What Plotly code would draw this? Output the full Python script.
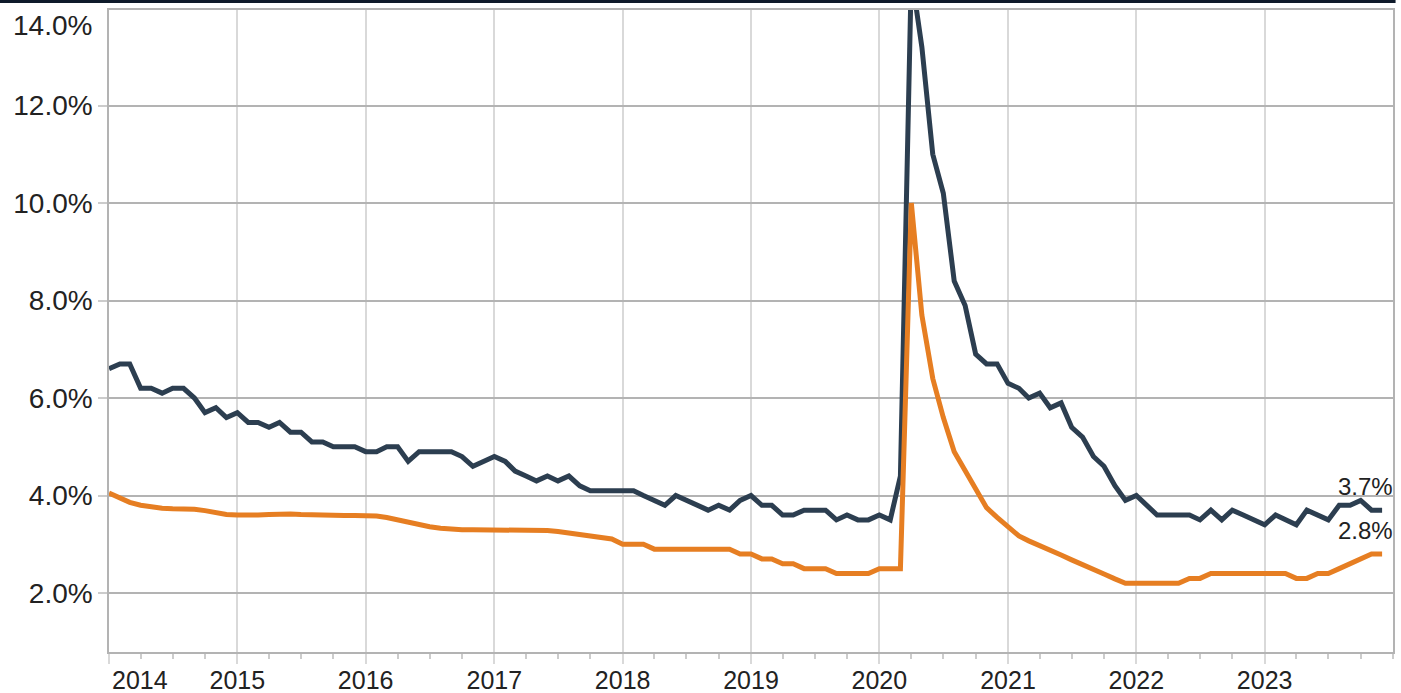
import pandas as pd
import plotly.graph_objects as go

# ---- data (monthly, Jan 2014 .. Dec 2023) ----
months = pd.date_range("2014-01-01", periods=120, freq="MS")

dark_rate = [
    6.6, 6.7, 6.7, 6.2, 6.2, 6.1, 6.2, 6.2, 6.0, 5.7, 5.8, 5.6,   # 2014
    5.7, 5.5, 5.5, 5.4, 5.5, 5.3, 5.3, 5.1, 5.1, 5.0, 5.0, 5.0,   # 2015
    4.9, 4.9, 5.0, 5.0, 4.7, 4.9, 4.9, 4.9, 4.9, 4.8, 4.6, 4.7,   # 2016
    4.8, 4.7, 4.5, 4.4, 4.3, 4.4, 4.3, 4.4, 4.2, 4.1, 4.1, 4.1,   # 2017
    4.1, 4.1, 4.0, 3.9, 3.8, 4.0, 3.9, 3.8, 3.7, 3.8, 3.7, 3.9,   # 2018
    4.0, 3.8, 3.8, 3.6, 3.6, 3.7, 3.7, 3.7, 3.5, 3.6, 3.5, 3.5,   # 2019
    3.6, 3.5, 4.4, 14.7, 13.2, 11.0, 10.2, 8.4, 7.9, 6.9, 6.7, 6.7,  # 2020
    6.3, 6.2, 6.0, 6.1, 5.8, 5.9, 5.4, 5.2, 4.8, 4.6, 4.2, 3.9,   # 2021
    4.0, 3.8, 3.6, 3.6, 3.6, 3.6, 3.5, 3.7, 3.5, 3.7, 3.6, 3.5,   # 2022
    3.4, 3.6, 3.5, 3.4, 3.7, 3.6, 3.5, 3.8, 3.8, 3.9, 3.7, 3.7,   # 2023
]

orange_rate = [
    4.05, 3.94, 3.86, 3.80, 3.76, 3.74, 3.73, 3.73, 3.72, 3.69, 3.65, 3.61,  # 2014
    3.60, 3.59, 3.60, 3.61, 3.62, 3.62, 3.61, 3.60, 3.59, 3.59, 3.59, 3.59,  # 2015
    3.59, 3.58, 3.55, 3.50, 3.45, 3.40, 3.36, 3.33, 3.31, 3.30, 3.30, 3.30,  # 2016
    3.30, 3.30, 3.30, 3.30, 3.29, 3.28, 3.26, 3.23, 3.20, 3.17, 3.14, 3.11,  # 2017
    3.0, 3.0, 3.0, 2.9, 2.9, 2.9, 2.9, 2.9, 2.9, 2.9, 2.9, 2.8,             # 2018
    2.8, 2.7, 2.7, 2.6, 2.6, 2.5, 2.5, 2.5, 2.4, 2.4, 2.4, 2.4,             # 2019
    2.5, 2.5, 2.5, 10.0, 7.7, 6.4, 5.6, 4.9, 4.5, 4.1, 3.75, 3.55,          # 2020
    3.36, 3.17, 3.07, 2.98, 2.88, 2.78, 2.68, 2.59, 2.49, 2.39, 2.29, 2.2,  # 2021
    2.2, 2.2, 2.2, 2.2, 2.2, 2.3, 2.3, 2.4, 2.4, 2.4, 2.4, 2.4,             # 2022
    2.4, 2.4, 2.4, 2.3, 2.3, 2.4, 2.4, 2.5, 2.6, 2.7, 2.8, 2.8,             # 2023
]

year_ticks = [f"{y}-01-01" for y in range(2014, 2024)]
year_labels = ["", "2015", "2016", "2017", "2018", "2019", "2020", "2021", "2022", "2023"]
first_year_label = "2014"
y_ticks = [2, 4, 6, 8, 10, 12]
y_labels = ["2.0%", "4.0%", "6.0%", "8.0%", "10.0%", "12.0%"]
top_y_label = "14.0%"
Y_MIN, Y_MAX = 0.79, 13.96

DARK = "#2c3e50"
ORANGE = "#e67e22"
FONT = "Liberation Sans, Arial, sans-serif"
TXT = "#222222"

fig = go.Figure()
fig.add_trace(go.Scatter(x=months, y=dark_rate, mode="lines",
                         line=dict(color=DARK, width=5), showlegend=False))
fig.add_trace(go.Scatter(x=months, y=orange_rate, mode="lines",
                         line=dict(color=ORANGE, width=5), showlegend=False))

fig.update_layout(
    width=1401, height=693,
    margin=dict(l=109, r=8, t=10, b=41, autoexpand=False),
    paper_bgcolor="white", plot_bgcolor="white",
    font=dict(family=FONT, color=TXT),
    showlegend=False,
)

fig.update_xaxes(
    type="date", range=["2014-01-01", "2024-01-01"], automargin=False,
    tickmode="array", tickvals=year_ticks, ticktext=year_labels,
    tickfont=dict(size=25, color=TXT), ticklabelstandoff=-5,
    ticks="outside", ticklen=10, tickwidth=2, tickcolor="#d9d9d9",
    showgrid=True, gridcolor="#d9d9d9", gridwidth=2,
    showline=True, linecolor="#b3b3b3", linewidth=2, mirror=True,
    zeroline=False,
    minor=dict(ticks="outside", ticklen=5, tickwidth=1.5, tickcolor="#cccccc",
               tickmode="linear", tick0="2014-01-01", dtick="M3", showgrid=False),
)

fig.update_yaxes(
    range=[Y_MIN, Y_MAX], automargin=False,
    tickmode="array", tickvals=y_ticks, ticktext=y_labels,
    tickfont=dict(size=28, color=TXT),
    ticks="outside", ticklen=9, tickwidth=2, tickcolor="#cccccc",
    showgrid=True, gridcolor="#b3b3b3", gridwidth=2,
    showline=True, linecolor="#b3b3b3", linewidth=1.5, mirror=True,
    zeroline=False,
)

# top dark rule
fig.add_shape(type="rect", xref="paper", yref="paper",
              x0=-0.0849, x1=1.002, y0=1.0108, y1=1.0160,
              fillcolor="#0e1a2a", line=dict(width=0), layer="above")

# shifted first/top axis labels
fig.add_annotation(xref="x", yref="y", x=year_ticks[0], y=Y_MAX, text=top_y_label,
                   showarrow=False, xanchor="right", yanchor="middle",
                   xshift=-15, yshift=-15, font=dict(size=28, color=TXT))
fig.add_annotation(xref="x", yref="y", x=year_ticks[0], y=Y_MIN, text=first_year_label,
                   showarrow=False, xanchor="left", yanchor="top",
                   xshift=1, yshift=-12, font=dict(size=25, color=TXT))

# end-of-line value labels
for series in (dark_rate, orange_rate):
    fig.add_annotation(x=months[-1], y=series[-1], text=f"{series[-1]:.1f}%",
                       showarrow=False, xanchor="right", yanchor="middle",
                       xshift=13, yshift=24, font=dict(size=24, color=TXT))

fig.write_html("out.html", config={"displayModeBar": False},
               post_script="document.body.style.margin='0';")
